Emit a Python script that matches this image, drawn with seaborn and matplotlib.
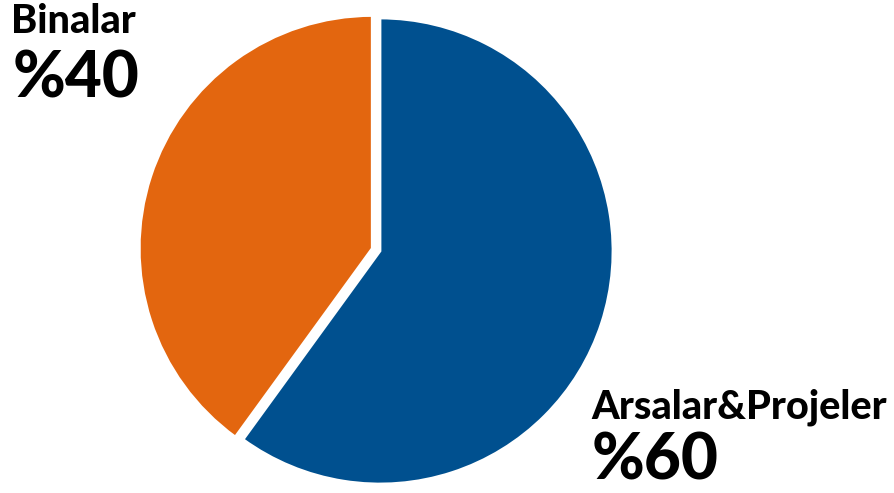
import matplotlib
matplotlib.use("Agg")
import matplotlib.pyplot as plt
import seaborn as sns

# Portfolio split
categories = ["Arsalar&Projeler", "Binalar"]
shares = [60, 40]
colors = ["#00508F", "#E3660F"]

sns.set_theme(style="white")
plt.rcParams["font.family"] = ["Lato", "DejaVu Sans"]

W, H, DPI = 895, 493, 100
fig = plt.figure(figsize=(W / DPI, H / DPI), dpi=DPI)
ax = fig.add_axes([0, 0, 1, 1])

# pixel geometry of the pie: centre and radius
cx, cy, r = 380, 251, 233

ax.pie(
    shares,
    colors=colors,
    startangle=90,
    counterclock=False,
    explode=[0.0, 0.035],
    radius=1.0,
    wedgeprops=dict(edgecolor="white", linewidth=2),
)
ax.set_xlim(-cx / r, (W - cx) / r)
ax.set_ylim(-(H - cy) / r, cy / r)
ax.set_aspect("auto")
ax.axis("off")


def px(x, y):
    return x / W, 1 - y / H


name_style = dict(fontsize=28.5, fontweight="black", color="black", va="baseline", ha="left")
pct_style = dict(fontsize=46, fontweight="black", color="black", va="baseline", ha="left")

fig.text(*px(11, 33), categories[1], **name_style)
fig.text(*px(13, 97), f"%{shares[1]}", **pct_style)
fig.text(*px(591, 419), categories[0], **name_style)
fig.text(*px(592, 479), f"%{shares[0]}", **pct_style)

fig.savefig("out.png", dpi=DPI, facecolor="white")
